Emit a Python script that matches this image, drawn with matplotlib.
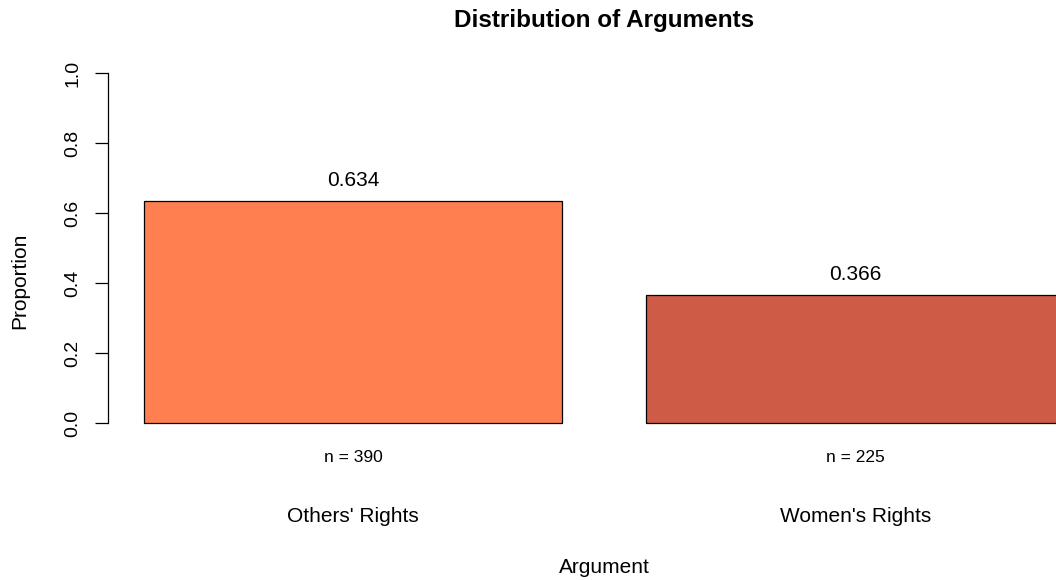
import matplotlib
matplotlib.use("Agg")
import matplotlib.pyplot as plt

plt.rcParams["font.family"] = ["Liberation Sans", "DejaVu Sans"]

# data
categories = ["Others' Rights", "Women's Rights"]
proportions = [0.634, 0.366]
counts = [390, 225]
bar_colors = ["#FF7F50", "#CD5B45"]

W, H = 1056, 580
fig = plt.figure(figsize=(W / 100, H / 100), dpi=100)

# plot region in pixels (R-like layout, right edge runs past the figure)
left_px, right_px = 107.5, 1101
top_px, bottom_px = 59, 437
ax = fig.add_axes([left_px / W, (H - bottom_px) / H,
                   (right_px - left_px) / W, (bottom_px - top_px) / H])

# R barplot positions: width 1, space 0.2
width = 1.0
space = 0.2
centers = [space + i * (width + space) + width / 2 for i in range(len(categories))]

ax.bar(centers, proportions, width=width, color=bar_colors,
       edgecolor="black", linewidth=0.9, zorder=2)

ax.set_xlim(0.112, 2.488)
ax.set_ylim(-0.04, 1.04)

for sp in ["top", "right", "bottom"]:
    ax.spines[sp].set_visible(False)
ax.spines["left"].set_bounds(0, 1)
ax.spines["left"].set_linewidth(0.9)
ax.set_xticks([])
ax.set_yticks([0, 0.2, 0.4, 0.6, 0.8, 1.0])
ax.set_yticklabels(["0.0", "0.2", "0.4", "0.6", "0.8", "1.0"],
                   rotation=90, va="center")
ax.tick_params(axis="y", length=9.5, width=0.9, pad=9.5, labelsize=14)

# value labels above bars
for x, p in zip(centers, proportions):
    ax.text(x, p + 0.058, f"{p:.3f}", ha="center", va="center", fontsize=15)

# counts and category names under bars
for x, n, c in zip(centers, counts, categories):
    ax.text(x, -0.0986, f"n = {n}", ha="center", va="center",
            fontsize=12.5, clip_on=False)
    ax.text(x, -(522 - 423) / 350, c, ha="center", va="baseline",
            fontsize=15, clip_on=False)

xc = (left_px + right_px) / 2 / W
fig.text(xc, (H - 27) / H, "Distribution of Arguments", ha="center",
         va="baseline", fontsize=17.5, fontweight="bold")
fig.text(xc, (H - 573) / H, "Argument", ha="center", va="baseline", fontsize=15)
fig.text(20 / W, (H - 281) / H, "Proportion",
         rotation=90, ha="center", va="center", fontsize=15)

fig.savefig("out.png", dpi=100)
